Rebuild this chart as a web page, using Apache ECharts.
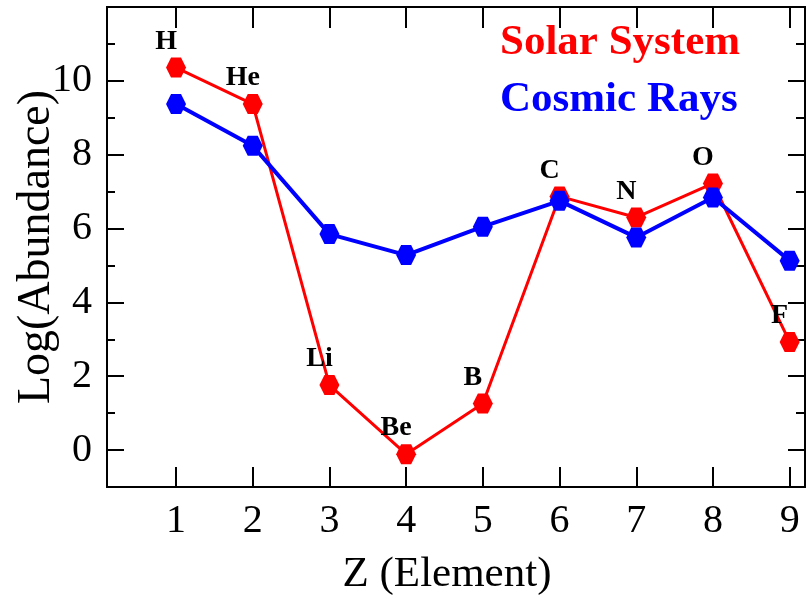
<!DOCTYPE html>
<html>
<head>
<meta charset="utf-8">
<title>Abundance</title>
<script src="https://cdn.jsdelivr.net/npm/echarts@6/dist/echarts.min.js"></script>
<style>
  html, body { margin: 0; padding: 0; background: #fff; }
  #chart { width: 811px; height: 603px; }
</style>
</head>
<body>
<div id="chart"></div>
<script>
// Z of each element, and its symbol
const zValues = [1, 2, 3, 4, 5, 6, 7, 8, 9]
const elements = ['H', 'He', 'Li', 'Be', 'B', 'C', 'N', 'O', 'F']
// log abundances
const solarSystem = [10.36, 9.37, 1.76, -0.11, 1.26, 6.87, 6.30, 7.22, 2.93]
const cosmicRays = [9.37, 8.24, 5.85, 5.28, 6.05, 6.75, 5.76, 6.84, 5.13]
// tick positions
const xTicks = [1, 2, 3, 4, 5, 6, 7, 8, 9]
const yMajorTicks = [0, 2, 4, 6, 8, 10]
const yMinorTicks = [1, 3, 5, 7, 9, 11]

const serif = 'Liberation Serif'
const hexagon = 'path://M0,0.866 L0.5,0 L1.5,0 L2,0.866 L1.5,1.732 L0.5,1.732 Z'

const chart = echarts.init(document.getElementById('chart'), null, { renderer: 'canvas' })

const blackLine = { show: true, onZero: false, lineStyle: { color: '#000', width: 2 } }

function yTickAxis (position, values, length) {
  return {
    type: 'value',
    position: position,
    min: -1,
    max: 12,
    axisLine: blackLine,
    axisLabel: { show: false },
    axisTick: {
      show: true, inside: true, length: length, customValues: values,
      lineStyle: { color: '#000', width: 2 }
    },
    splitLine: { show: false }
  }
}

const option = {
  backgroundColor: '#fff',
  animation: false,
  grid: { left: 107, right: 6, top: 7, bottom: 116, containLabel: false, outerBoundsMode: 'none' },
  legend: {
    orient: 'vertical',
    left: 490,
    top: 15,
    itemWidth: 0,
    itemHeight: 0,
    itemGap: 12,
    selectedMode: false,
    data: [
      { name: 'Solar System', icon: 'none', textStyle: { color: '#ff0000' } },
      { name: 'Cosmic Rays', icon: 'none', textStyle: { color: '#0000ff' } }
    ],
    textStyle: { fontFamily: serif, fontWeight: 'bold', fontSize: 43, lineHeight: 45 }
  },
  xAxis: [
    {
      type: 'value',
      position: 'bottom',
      min: 0.1,
      max: 9.2,
      name: 'Z (Element)',
      nameLocation: 'middle',
      nameGap: 66,
      nameMoveOverlap: false,
      nameTextStyle: { fontFamily: serif, fontSize: 43, color: '#000', padding: [0, 18, 0, 0] },
      axisLine: blackLine,
      axisTick: {
        show: true, inside: true, length: 20, customValues: xTicks,
        lineStyle: { color: '#000', width: 2 }
      },
      axisLabel: {
        customValues: xTicks, margin: 14,
        fontFamily: serif, fontSize: 40, color: '#000'
      },
      splitLine: { show: false }
    },
    {
      type: 'value',
      position: 'top',
      min: 0.1,
      max: 9.2,
      axisLine: blackLine,
      axisTick: {
        show: true, inside: true, length: 21, customValues: xTicks,
        lineStyle: { color: '#000', width: 2 }
      },
      axisLabel: { show: false },
      splitLine: { show: false }
    }
  ],
  yAxis: [
    {
      type: 'value',
      position: 'left',
      min: -1,
      max: 12,
      name: 'Log(Abundance)',
      nameLocation: 'middle',
      nameGap: 47,
      nameMoveOverlap: false,
      nameTextStyle: { fontFamily: serif, fontSize: 46, color: '#000' },
      axisLine: blackLine,
      axisTick: {
        show: true, inside: true, length: 17, customValues: yMajorTicks,
        lineStyle: { color: '#000', width: 2 }
      },
      axisLabel: {
        customValues: yMajorTicks, margin: 15,
        fontFamily: serif, fontSize: 40, color: '#000'
      },
      splitLine: { show: false }
    },
    yTickAxis('left', yMinorTicks, 8),
    yTickAxis('right', yMajorTicks, 17),
    yTickAxis('right', yMinorTicks, 9)
  ],
  series: [
    {
      name: 'Solar System',
      type: 'line',
      z: 2,
      data: zValues.map((z, i) => [z, solarSystem[i]]),
      symbol: hexagon,
      symbolSize: [20, 20],
      itemStyle: { color: '#ff0000' },
      lineStyle: { color: '#ff0000', width: 3 },
      label: {
        show: true,
        position: 'top',
        distance: 2,
        offset: [-10, 0],
        fontFamily: serif,
        fontWeight: 'bold',
        fontSize: 28,
        color: '#000',
        formatter: p => elements[p.dataIndex]
      }
    },
    {
      name: 'Cosmic Rays',
      type: 'line',
      z: 3,
      data: zValues.map((z, i) => [z, cosmicRays[i]]),
      symbol: hexagon,
      symbolSize: [20, 20],
      itemStyle: { color: '#0000ff' },
      lineStyle: { color: '#0000ff', width: 4 }
    }
  ]
}

chart.setOption(option)
</script>
</body>
</html>
